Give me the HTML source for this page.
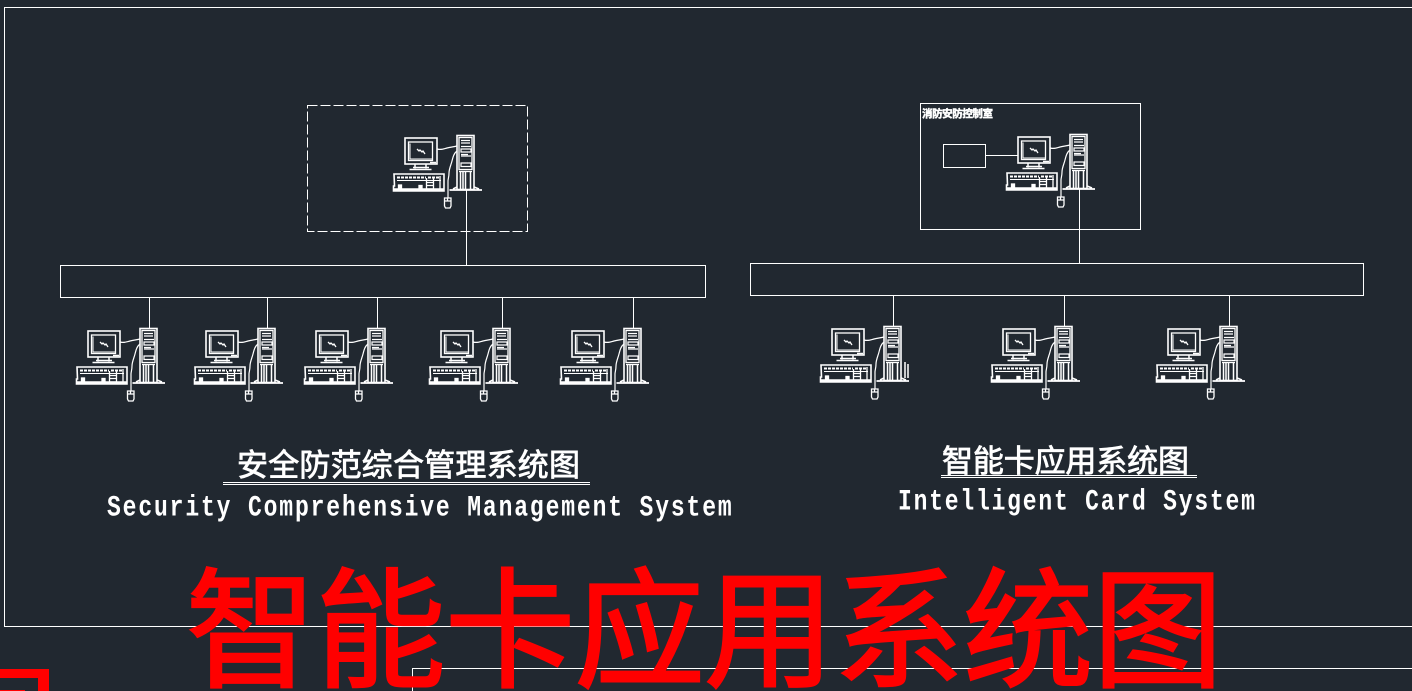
<!DOCTYPE html>
<html><head><meta charset="utf-8"><style>
html,body{margin:0;padding:0;background:#212830;width:1412px;height:691px;overflow:hidden}
svg{display:block}
text{font-family:"Liberation Sans","Noto Sans CJK SC",sans-serif}
.m{font-family:"Liberation Mono","Noto Sans CJK SC",monospace}
</style></head><body>
<svg width="1412" height="691" viewBox="0 0 1412 691" xmlns="http://www.w3.org/2000/svg">
<defs>
<g id="pc" fill="none" stroke="#fff" stroke-width="1.300">
<rect x="25" y="13" width="32" height="26" stroke-width="1.600"/>
<rect x="28.500" y="17" width="24" height="18.500"/>
<path d="M30 18.500V34H52" stroke-width="1"/>
<path d="M37 24l2 2 1-1 2 2 1-1 2 3" stroke-width="1.300"/>
<path d="M35 39.500v4M46 39.500v4M29.500 44.500h22M33 42.500h16M50 37.500h6" stroke-width="1.500"/>
<path d="M14 49h50v17H13.500v-5h1z" stroke-width="1.600"/>
<path d="M14 64.500h50" stroke-width="2.400"/>
<path d="M17 52.500h29M48 52.500h12" stroke-width="2" stroke-dasharray="3 1"/>
<path d="M17 55.500h44" stroke-width="1"/>
<path d="M46.500 53v11h7V53M47 57.500h6M47 60.500h6M60 51v13" stroke-width="1.300"/>
<rect x="18.500" y="60" width="3" height="4" fill="#fff"/><rect x="39" y="60.500" width="3" height="3.500" fill="#fff"/>
<rect x="77" y="10.500" width="17" height="54" stroke-width="1.600"/>
<rect x="79" y="12.500" width="13" height="32" stroke-width="1.300"/>
<path d="M81 15.500h9M81 18h9M81 21.500h10M81 24h10v3h-10zM81 29.500h7M81 31h10M81 38h10v3.500h-10z" stroke-width="1.200"/>
<path d="M79 46.500h13" stroke-width="1.300"/>
<path d="M80.500 47v17M85.500 47v17M90.500 47v17M83 47v17" stroke-width="1.500"/>
<path d="M69.500 65h32.500M73 64l4-2M99 64l-5-2" stroke-width="1.700"/>
<path d="M57 24c4 1 6 0 10-1s6-1 10-2" stroke-width="1.200"/>
<path d="M77 26c-3 2-4 6-5 10s-3 8-3 12-1 6-1 8v17" stroke-width="1.200"/>
<path d="M64.500 73h6.500v8l-1 2h-4.500l-1-2z" stroke-width="1.300"/>
<path d="M64.500 76h6.500M67.500 73v3" stroke-width="1.300"/>
</g>
</defs>
<rect width="1412" height="691" fill="#212830"/>
<g fill="none" stroke="#fff" stroke-width="1">
<path d="M1412 7.500H4.500V626.500H1412"/>
<path d="M412.500 691V668.500H1412"/>
<rect x="307.500" y="105.500" width="220" height="126" stroke-dasharray="10 3"/>
<rect x="920.500" y="103.500" width="220" height="126"/>
<rect x="943.500" y="144.500" width="42" height="23"/>
<path d="M986 155.500H1018"/>
<rect x="60.500" y="265.500" width="645" height="32"/>
<rect x="750.500" y="263.500" width="613" height="32"/>
<path d="M466.500 190V265M1079.500 188V263"/>
<path d="M149.500 298V328M267.500 298V328M377.500 298V328M502.500 298V328M633.500 298V328"/>
<path d="M893.500 296V326M1064.500 296V326M1229.500 296V326"/>
<path d="M223 482.500H590M223 484.500H590M941 475.500H1197M941 477.500H1197"/>
</g>
<use href="#pc" transform="translate(380,125)"/>
<use href="#pc" transform="translate(993,124)"/>
<use href="#pc" transform="translate(63,318)"/>
<use href="#pc" transform="translate(181,318)"/>
<use href="#pc" transform="translate(291,318)"/>
<use href="#pc" transform="translate(416,318)"/>
<use href="#pc" transform="translate(547,318)"/>
<use href="#pc" transform="translate(807,316)"/>
<use href="#pc" transform="translate(978,316)"/>
<use href="#pc" transform="translate(1143,316)"/>
<path d="M905 362v16M908 364v14" stroke="#fff" stroke-width="1.500" fill="none"/>
<g fill="#fff">
<text x="922" y="117" font-size="10.500" font-weight="700" stroke="#fff" stroke-width=".5" textLength="71" lengthAdjust="spacing">消防安防控制室</text>
<text x="237" y="476" font-size="31" stroke="#fff" stroke-width=".8" textLength="343" lengthAdjust="spacing">安全防范综合管理系统图</text>
<text x="942" y="472" font-size="31" stroke="#fff" stroke-width=".8" textLength="247" lengthAdjust="spacing">智能卡应用系统图</text>
<text class="m" transform="translate(107,515.500) scale(.92,1.180)" font-size="25" font-weight="700" textLength="679" lengthAdjust="spacing">Security Comprehensive Management System</text>
<text class="m" transform="translate(898,509.500) scale(.92,1.180)" font-size="25" font-weight="700" textLength="388" lengthAdjust="spacing">Intelligent Card System</text>
</g>
<text x="186" y="677" font-size="130" font-weight="400" fill="#f00" stroke="#f00" stroke-width="2.500" textLength="1037" lengthAdjust="spacing" style="font-family:'Noto Sans CJK SC',sans-serif">智能卡应用系统图</text>
<path d="M0 669H49V691H38V678H0Z" fill="#f00"/>
<rect x="0" y="690" width="25" height="1" fill="#f00"/>
</svg>
</body></html>
